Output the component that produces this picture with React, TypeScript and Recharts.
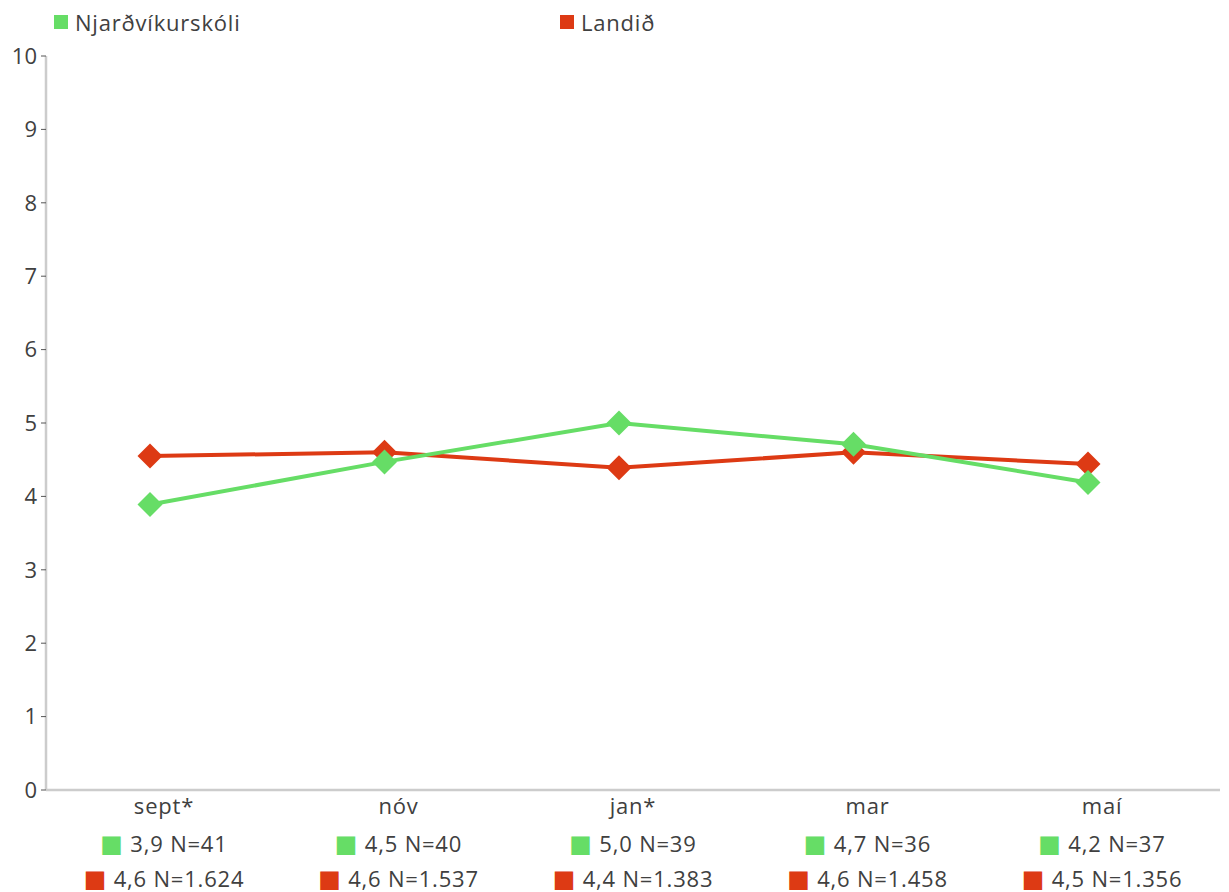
import { LineChart, Line, XAxis, YAxis } from 'recharts';

const months = ['sept*', 'nóv', 'jan*', 'mar', 'maí'];
const schoolValues = [3.89, 4.47, 5.0, 4.71, 4.19];
const nationValues = [4.55, 4.6, 4.39, 4.6, 4.44];
const schoolLabels = ['3,9 N=41', '4,5 N=40', '5,0 N=39', '4,7 N=36', '4,2 N=37'];
const nationLabels = ['4,6 N=1.624', '4,6 N=1.537', '4,4 N=1.383', '4,6 N=1.458', '4,5 N=1.356'];
const yTicks = [0, 1, 2, 3, 4, 5, 6, 7, 8, 9, 10];

const GREEN = '#66dd66';
const RED = '#dd3a14';
const TEXT = '#404040';
const FONT = '"Open Sans", Lato, sans-serif';

const data = months.map((m, i) => ({
  month: m,
  school: schoolValues[i],
  nation: nationValues[i],
}));

const Diamond = (props: any) => {
  const { cx, cy, fill } = props;
  if (cx == null || cy == null) return null;
  const r = 12.5;
  return (
    <polygon
      points={`${cx},${cy - r} ${cx + r},${cy} ${cx},${cy + r} ${cx - r},${cy}`}
      fill={fill}
    />
  );
};

const MonthTick = (props: any) => {
  const { x, y, payload } = props;
  const i = payload.index;
  const cx = x + 14;
  return (
    <g fontFamily={FONT} fontSize={22} fill={TEXT} letterSpacing={0.8}>
      <text x={cx} y={y + 24} textAnchor="middle">
        {payload.value}
      </text>
      <text x={cx} y={y + 62} textAnchor="middle">
        <tspan fill={GREEN} fontFamily="DejaVu Sans" fontSize={24}>■</tspan>
        <tspan fill={TEXT}> {schoolLabels[i]}</tspan>
      </text>
      <text x={cx} y={y + 97} textAnchor="middle">
        <tspan fill={RED} fontFamily="DejaVu Sans" fontSize={24}>■</tspan>
        <tspan fill={TEXT}> {nationLabels[i]}</tspan>
      </text>
    </g>
  );
};

const legendItems = [
  { name: 'Njarðvíkurskóli', color: GREEN, left: 54 },
  { name: 'Landið', color: RED, left: 560 },
];

export default function App() {
  return (
    <div style={{ position: 'absolute', left: 0, top: 0, width: 1229, height: 892, background: '#fff' }}>
      {legendItems.map((l) => (
        <div
          key={l.name}
          style={{
            position: 'absolute',
            left: l.left,
            top: 8,
            display: 'flex',
            alignItems: 'center',
            fontFamily: FONT,
            fontSize: 22,
            letterSpacing: 0.8,
            color: TEXT,
            lineHeight: '28px',
          }}
        >
          <span style={{ width: 14, height: 14, background: l.color, display: 'inline-block', marginRight: 7 }} />
          {l.name}
        </div>
      ))}
      <LineChart
        width={1229}
        height={892}
        data={data}
        margin={{ top: 56, right: 9, left: 0, bottom: 0 }}
      >
        <XAxis
          dataKey="month"
          height={102}
          padding={{ left: 104, right: 132 }}
          axisLine={{ stroke: '#cccccc', strokeWidth: 2.5 }}
          tickLine={false}
          tickSize={0}
          tickMargin={0}
          tick={<MonthTick />}
          interval={0}
        />
        <YAxis
          width={46}
          domain={[0, 10]}
          ticks={yTicks}
          interval={0}
          axisLine={{ stroke: '#cccccc', strokeWidth: 2.5 }}
          tickLine={{ stroke: '#555555', strokeWidth: 1 }}
          tickSize={5}
          tickMargin={4}
          tick={{ fill: TEXT, fontSize: 22, fontFamily: FONT }}
        />
        <Line
          dataKey="nation"
          stroke={RED}
          strokeWidth={4}
          dot={<Diamond fill={RED} />}
          activeDot={false}
          isAnimationActive={false}
        />
        <Line
          dataKey="school"
          stroke={GREEN}
          strokeWidth={4}
          dot={<Diamond fill={GREEN} />}
          activeDot={false}
          isAnimationActive={false}
        />
      </LineChart>
    </div>
  );
}
